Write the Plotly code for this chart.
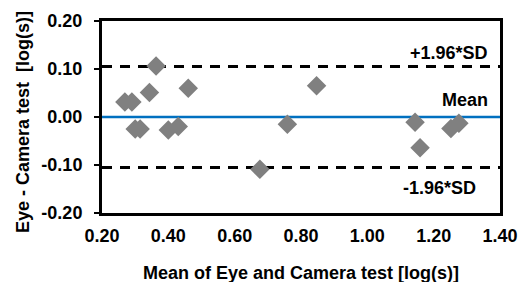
import plotly.graph_objects as go

mean_x = [0.269, 0.290, 0.300, 0.315, 0.343, 0.363, 0.400, 0.430, 0.460,
          0.676, 0.759, 0.847, 1.144, 1.159, 1.252, 1.276]
diff_y = [0.031, 0.031, -0.025, -0.025, 0.051, 0.106, -0.027, -0.020, 0.060,
          -0.109, -0.015, 0.065, -0.011, -0.064, -0.024, -0.013]
mean_diff = 0.0
upper_loa = 0.105
lower_loa = -0.105
x_ticks = [0.2, 0.4, 0.6, 0.8, 1.0, 1.2, 1.4]
y_ticks = [-0.2, -0.1, 0.0, 0.1, 0.2]

FONT = "Liberation Sans"
FS = 18

fig = go.Figure()
fig.add_trace(go.Scatter(
    x=[0.2, 1.4], y=[upper_loa, upper_loa], mode="lines",
    line=dict(color="black", width=3, dash="10px,8px"), hoverinfo="skip"))
fig.add_trace(go.Scatter(
    x=[0.2, 1.4], y=[lower_loa, lower_loa], mode="lines",
    line=dict(color="black", width=3, dash="10px,8px"), hoverinfo="skip"))
fig.add_trace(go.Scatter(
    x=[0.2, 1.4], y=[mean_diff, mean_diff], mode="lines",
    line=dict(color="#0070C0", width=2.5), hoverinfo="skip"))
fig.add_trace(go.Scatter(
    x=mean_x, y=diff_y, mode="markers",
    marker=dict(symbol="diamond", size=15, color="#808080", line=dict(width=0))))

fig.add_annotation(x=1.37, y=upper_loa, xref="x", yref="y", text="<b>+1.96*SD</b>",
                   showarrow=False, xanchor="right", yanchor="bottom", yshift=2,
                   font=dict(family=FONT, size=FS, color="black"))
fig.add_annotation(x=1.37, y=mean_diff, xref="x", yref="y", text="<b>Mean</b>",
                   showarrow=False, xanchor="right", yanchor="bottom", yshift=5,
                   font=dict(family=FONT, size=FS, color="black"))
fig.add_annotation(x=1.335, y=lower_loa, xref="x", yref="y", text="<b>-1.96*SD</b>",
                   showarrow=False, xanchor="right", yanchor="top", yshift=-9,
                   font=dict(family=FONT, size=FS, color="black"))

# axis titles as annotations for exact placement
fig.add_annotation(x=0.5, y=0, xref="paper", yref="paper",
                   text="<b>Mean of Eye and Camera test [log(s)]</b>",
                   showarrow=False, xanchor="center", yanchor="middle", yshift=-60,
                   font=dict(family=FONT, size=FS, color="black"))
fig.add_annotation(x=0, y=0.5, xref="paper", yref="paper",
                   text="<b>Eye - Camera test  [log(s)]</b>", textangle=-90,
                   showarrow=False, xanchor="center", yanchor="middle",
                   xshift=-79, yshift=-5,
                   font=dict(family=FONT, size=FS, color="black"))

fig.update_layout(
    width=518, height=282,
    margin=dict(l=102, r=18, t=21, b=69),
    paper_bgcolor="white", plot_bgcolor="white",
    showlegend=False,
    font=dict(family=FONT, size=FS, color="black"),
)
fig.update_xaxes(
    range=[0.2, 1.4], tickvals=x_ticks,
    ticktext=[f"<b>{v:.2f}</b>" for v in x_ticks],
    showgrid=False, zeroline=False, showline=True, linecolor="black", linewidth=3,
    mirror=True, ticks="", ticklabelstandoff=4, automargin=False,
    tickfont=dict(family=FONT, size=FS),
)
fig.update_yaxes(
    range=[-0.2, 0.2], tickvals=y_ticks,
    ticktext=[f"<b>{v:.2f}</b>" for v in y_ticks],
    showgrid=False, zeroline=False, showline=True, linecolor="black", linewidth=3,
    mirror=True, ticks="outside", ticklen=5, tickwidth=2, tickcolor="black",
    ticklabelstandoff=8, automargin=False,
    tickfont=dict(family=FONT, size=FS),
)

fig.write_html("out.html", config={"displayModeBar": False},
               post_script="document.body.style.margin='0';document.body.style.padding='0';")
